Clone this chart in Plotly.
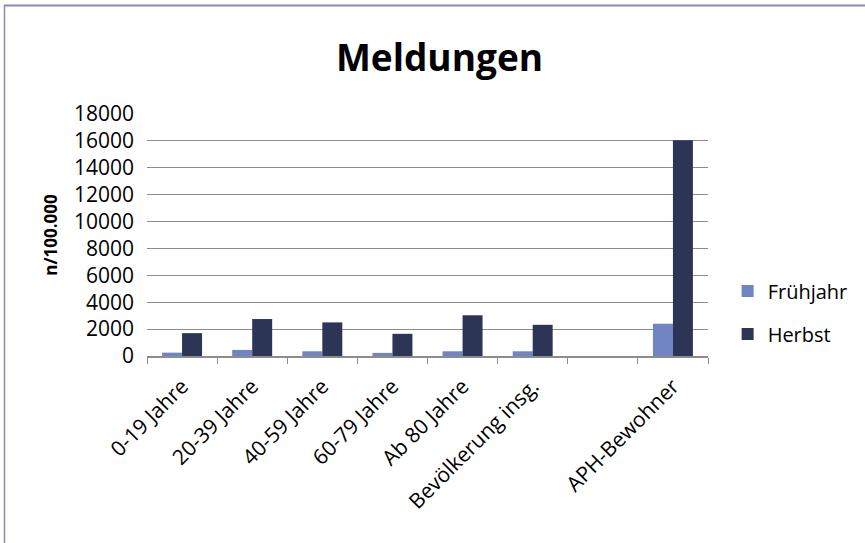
import plotly.graph_objects as go

categories = ["0-19 Jahre", "20-39 Jahre", "40-59 Jahre", "60-79 Jahre",
              "Ab 80 Jahre", "Bevölkerung insg.", " ", "APH-Bewohner"]
fruehjahr = [250, 450, 350, 230, 350, 350, None, 2400]
herbst = [1700, 2750, 2500, 1650, 3030, 2320, None, 16050]
y_ticks = [0, 2000, 4000, 6000, 8000, 10000, 12000, 14000, 16000, 18000]

W, H = 865, 543
L, R, T, B = 147, 157, 114, 187
pw, ph = W - L - R, H - T - B


def px_x(x):
    return (x - L) / pw


def px_y(y):
    return (H - B - y) / ph


FONT = "Open Sans"
c_fj = "#7084c4"
c_hb = "#2c3556"

fig = go.Figure()
fig.add_trace(go.Bar(name="Frühjahr", x=categories, y=fruehjahr,
                     marker=dict(color=c_fj, line=dict(width=0)),
                     legendgroup="a"))
fig.add_trace(go.Bar(name="Herbst", x=categories, y=herbst,
                     marker=dict(color=c_hb, line=dict(width=0)),
                     legendgroup="b"))

fig.update_layout(
    width=W, height=H,
    margin=dict(l=L, r=R, t=T, b=B, autoexpand=False),
    paper_bgcolor="white", plot_bgcolor="white",
    barmode="group", bargap=0.43, bargroupgap=0,
    font=dict(family=FONT, color="#000000"),
    title=dict(text="<b>Meldungen</b>", font=dict(size=37, family=FONT, color="#000000"),
               x=439.5 / W, xref="container", xanchor="center",
               y=1 - 58 / H, yref="container", yanchor="middle"),
    legend=dict(x=1.035, xanchor="left", y=0.18, yanchor="middle",
                font=dict(size=20, family=FONT), tracegroupgap=14,
                bgcolor="rgba(0,0,0,0)"),
    xaxis=dict(type="category", categoryorder="array", categoryarray=categories,
               tickangle=-45, tickfont=dict(size=21, family=FONT),
               showline=True, linecolor="#8c8c8c", linewidth=1.5,
               ticks="outside", tickson="boundaries", ticklen=6, tickcolor="#8c8c8c",
               ticklabelstandoff=8, automargin=False,
               showgrid=False),
    yaxis=dict(range=[0, 18000], tickvals=y_ticks,
               ticktext=[str(v) for v in y_ticks],
               tickfont=dict(size=21, family=FONT),
               showgrid=True, gridcolor="#8c8c8c", gridwidth=1.4,
               zeroline=False, showline=False, ticks="",
               ticklabelstandoff=12, automargin=False,
               title=dict(text="<b>n/100.000</b>", font=dict(size=17, family=FONT),
                          standoff=12)),
    shapes=[
        dict(type="line", xref="paper", yref="paper",
             x0=px_x(4), x1=px_x(W + 5), y0=px_y(5.5), y1=px_y(5.5),
             line=dict(color="#8e8aaa", width=2)),
        dict(type="line", xref="paper", yref="paper",
             x0=px_x(4.5), x1=px_x(4.5), y0=px_y(5), y1=px_y(H + 5),
             line=dict(color="#8e8aaa", width=1.5)),
    ],
)

fig.write_html("out.html")
